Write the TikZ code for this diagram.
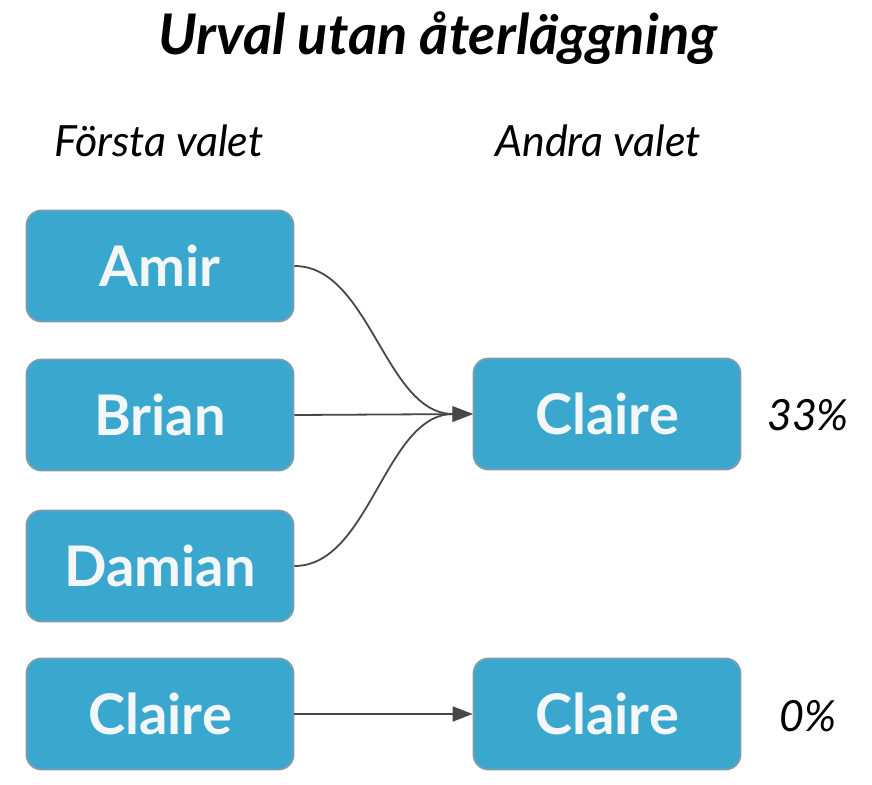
\documentclass[tikz,border=0pt]{standalone}
\usepackage{fontspec}
\setmainfont{Lato}
\usetikzlibrary{arrows.meta}
\definecolor{boxblue}{HTML}{3AA8CE}
\definecolor{boxedge}{HTML}{7E9DAC}
\definecolor{arrgray}{HTML}{484848}
\definecolor{txtwhite}{HTML}{F4F7F8}
\tikzset{
  namebox/.style={rectangle, rounded corners=15pt, fill=boxblue, draw=boxedge, line width=1.8pt,
    minimum width=267pt, minimum height=111pt, inner sep=0pt, text=txtwhite,
    font=\bfseries\fontsize{56}{66}\selectfont},
  lbl/.style={font=\itshape\fontsize{43}{50}\selectfont, text=black, inner sep=0pt},
  conn/.style={draw=arrgray, line width=1.8pt, -{Triangle[length=20pt,width=15pt]}}
}
\begin{document}
\begin{tikzpicture}[x=1pt,y=-1pt]
\useasboundingbox[fill=white] (0,0) rectangle (872,784);
\node[font=\bfseries\itshape\fontsize{56}{66}\selectfont, inner sep=0pt] (title) at (438,38) {Urval utan återläggning};
\node[lbl] (first) at (159,141) {Första valet};
\node[lbl] (second) at (598,141) {Andra valet};
\node[namebox] (amir) at (160,266) {Amir};
\node[namebox] (brian) at (160,415) {Brian};
\node[namebox] (damian) at (160,566) {Damian};
\node[namebox] (claireA) at (160,714) {Claire};
\node[namebox] (claireB) at (607,414) {Claire};
\node[namebox] (claireC) at (607,714) {Claire};
\node[lbl] (p33) at (808,415) {33\%};
\node[lbl] (p0) at (808,716) {0\%};
\draw[conn] (amir.east) .. controls (370,266) and (385,414) .. (claireB.west);
\draw[conn] (brian.east) -- (claireB.west);
\draw[conn] (damian.east) .. controls (370,566) and (385,414) .. (claireB.west);
\draw[conn] (claireA.east) -- (claireC.west);
\end{tikzpicture}
\end{document}
